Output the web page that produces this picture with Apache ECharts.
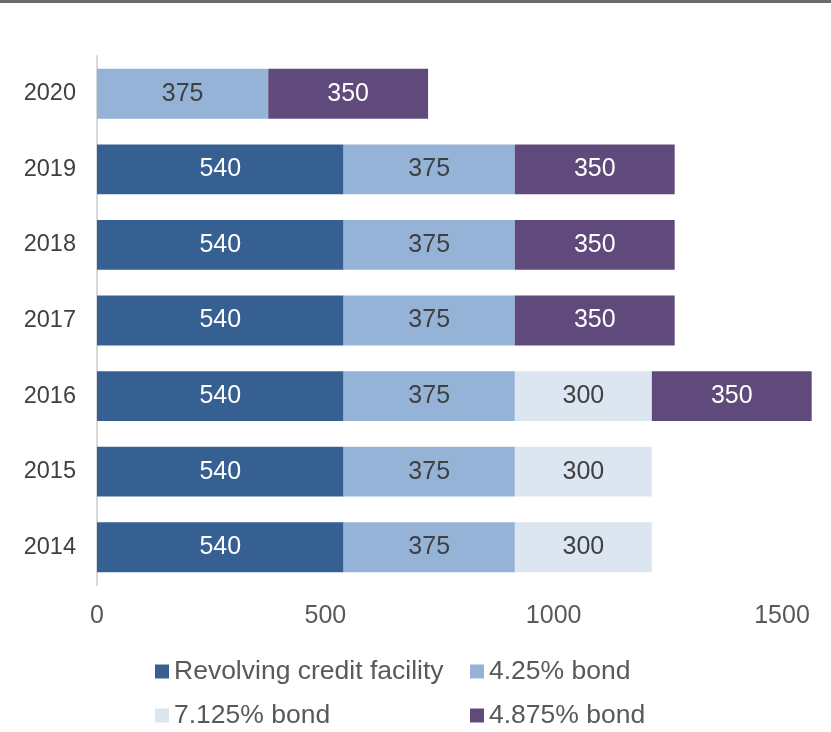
<!DOCTYPE html>
<html>
<head>
<meta charset="utf-8">
<script src="https://cdn.jsdelivr.net/npm/echarts@6/dist/echarts.min.js"></script>
<style>
  html, body { margin: 0; padding: 0; background: #ffffff; }
  #chart { width: 831px; height: 732px; }
</style>
</head>
<body>
<div id="chart"></div>
<script>
// Debt maturity profile by year (stacked)
var years = ['2014', '2015', '2016', '2017', '2018', '2019', '2020'];
var revolvingCredit = [540, 540, 540, 540, 540, 540, null];
var bond425 = [375, 375, 375, 375, 375, 375, 375];
var bond7125 = [300, 300, 300, null, null, null, null];
var bond4875 = [null, null, 350, 350, 350, 350, 350];
var xTicks = [0, 500, 1000, 1500];

var seriesDefs = [
  { name: 'Revolving credit facility', data: revolvingCredit, color: '#366092', text: '#ffffff' },
  { name: '4.25% bond', data: bond425, color: '#95B3D7', text: '#404040' },
  { name: '7.125% bond', data: bond7125, color: '#DCE6F1', text: '#404040' },
  { name: '4.875% bond', data: bond4875, color: '#604A7B', text: '#ffffff' }
];

var chart = echarts.init(document.getElementById('chart'), null, { renderer: 'canvas' });

var fontFamily = 'Liberation Sans, Arial, sans-serif';
var legendText = { fontFamily: fontFamily, fontSize: 26.5, color: '#595959' };

function legendColumn(names, left) {
  return {
    data: names,
    orient: 'vertical', left: left, top: 658, height: 74, padding: 0,
    itemWidth: 14, itemHeight: 14, itemGap: 17, icon: 'rect',
    textStyle: legendText, selectedMode: false
  };
}

chart.setOption({
  animation: false,
  textStyle: { fontFamily: fontFamily },
  grid: { left: 97, top: 56, width: 685, height: 529, containLabel: false },
  graphic: [
    { type: 'rect', shape: { x: 0, y: 0, width: 831, height: 3 }, style: { fill: '#6b6b6b' } }
  ],
  legend: [
    legendColumn(['Revolving credit facility', '7.125% bond'], 155),
    legendColumn(['4.25% bond', '4.875% bond'], 470)
  ],
  xAxis: {
    type: 'value', min: 0, max: 1500, interval: 500,
    axisLine: { show: false }, axisTick: { show: false }, splitLine: { show: false },
    axisLabel: {
      fontSize: 25, color: '#595959', margin: 19,
      formatter: function (v) { return xTicks.indexOf(v) >= 0 ? String(v) : ''; }
    }
  },
  yAxis: {
    type: 'category', data: years,
    axisLine: { show: true, lineStyle: { color: '#d9d9d9', width: 2 } },
    axisTick: { show: false },
    axisLabel: { fontSize: 23.5, color: '#404040', margin: 21 }
  },
  series: seriesDefs.map(function (s) {
    return {
      name: s.name, type: 'bar', stack: 'total', data: s.data,
      barCategoryGap: '34%', clip: false,
      itemStyle: { color: s.color },
      label: {
        show: true, position: 'inside', color: s.text, fontSize: 25,
        formatter: function (p) { return p.value; }
      }
    };
  })
});
</script>
</body>
</html>
